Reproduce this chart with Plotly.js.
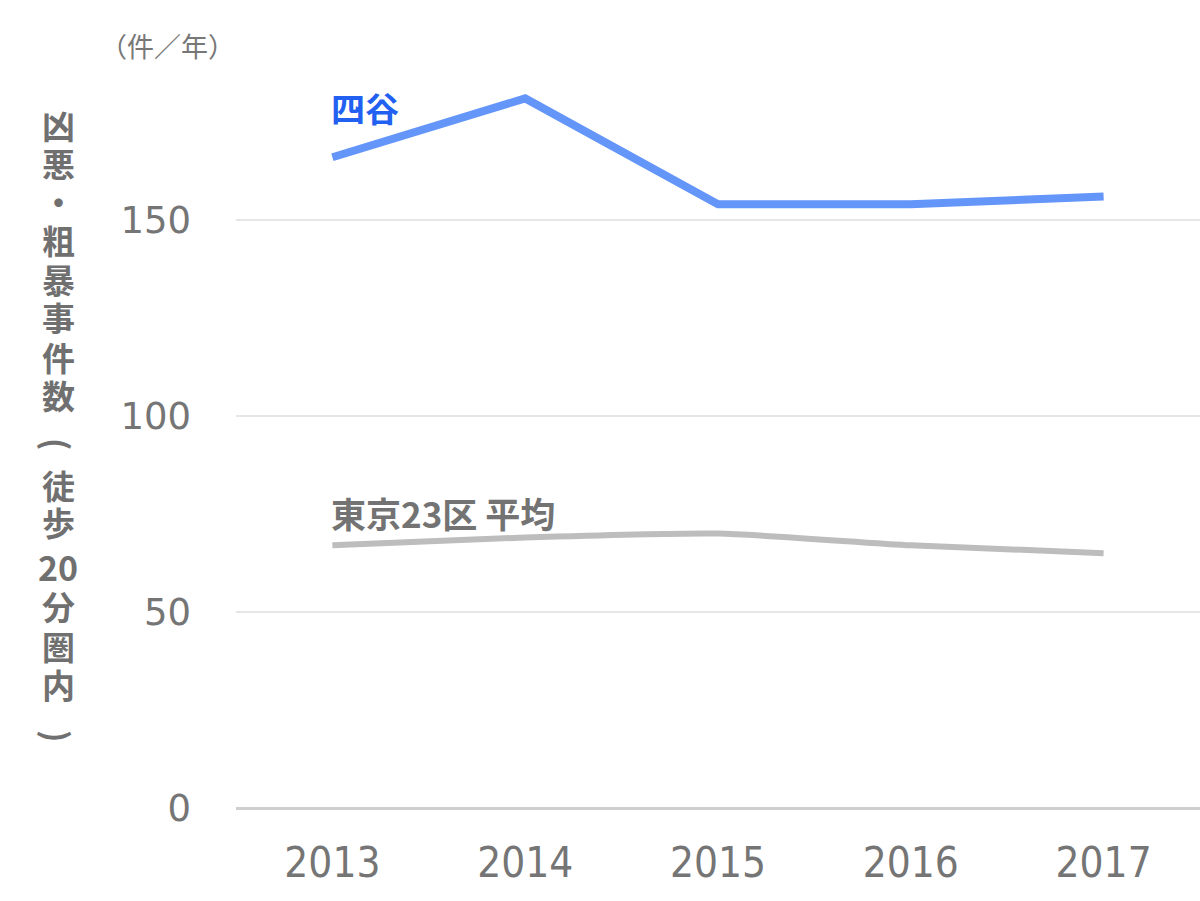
<!DOCTYPE html>
<html>
<head>
<meta charset="utf-8">
<script src="https://cdn.plot.ly/plotly-3.0.1.min.js"></script>
<style>html,body{margin:0;padding:0;background:#fff;}#chart{width:1200px;height:901px;}</style>
</head>
<body>
<div id="chart"></div>
<script>
const years = ['2013', '2014', '2015', '2016', '2017'];
const yotsuya = [166, 181, 154, 154, 156];
const tokyoAvg = [67, 69, 70, 67, 65];
const yTicks = [0, 50, 100, 150];
const seriesNames = ['四谷', '東京23区 平均'];
const yTitleChars = ['凶','悪','・','粗','暴','事','件','数','(','徒','歩','20','分','圏','内',')'];
const unitLabel = '（件／年）';

const traces = [
  {x: years, y: tokyoAvg, type: 'scatter', mode: 'lines', name: seriesNames[1],
   line: {color: '#bdbdbd', width: 6, shape: 'spline', smoothing: 0.6}},
  {x: years, y: yotsuya, type: 'scatter', mode: 'lines', name: seriesNames[0],
   line: {color: '#6496fa', width: 8}}
];

// layout geometry (pixels)
const M = {l: 236, r: 0, t: 60, b: 93};
const plotW = 1200 - M.l - M.r, plotH = 901 - M.t - M.b;
const px2x = p => (p - M.l) / plotW;
const py2y = p => (901 - M.b - p) / plotH;
const titleCharPixelY = [125, 163, 201, 240, 279, 317, 357, 395, 444, 485, 522, 566, 606, 646, 684, 736];

const annotations = [
  {xref: 'paper', yref: 'paper', x: px2x(98), y: py2y(45), xanchor: 'left', yanchor: 'middle',
   text: unitLabel, showarrow: false, font: {size: 27, color: '#777'}},
  {xref: 'x', yref: 'y', x: 0, y: 178.6, xanchor: 'left', yanchor: 'middle', xshift: -3,
   text: '<b>' + seriesNames[0] + '</b>', showarrow: false, font: {size: 34, color: '#2160f0'}},
  {xref: 'x', yref: 'y', x: 0, y: 75.5, xanchor: 'left', yanchor: 'middle', xshift: -3,
   text: '<b>' + seriesNames[1] + '</b>', showarrow: false, font: {size: 35, color: '#737373'}}
];
yTitleChars.forEach((ch, i) => {
  const isParen = (ch === '(' || ch === ')');
  annotations.push({
    xref: 'paper', yref: 'paper', x: px2x(58), y: py2y(titleCharPixelY[i]),
    xanchor: 'center', yanchor: 'middle', showarrow: false,
    text: '<b>' + ch + '</b>', textangle: isParen ? 90 : 0,
    font: {size: ch === '20' ? 34 : 33, color: '#707070'}
  });
});

const layout = {
  width: 1200, height: 901,
  margin: M,
  showlegend: false,
  paper_bgcolor: '#fff', plot_bgcolor: '#fff',
  font: {family: 'Noto Sans CJK JP, sans-serif', color: '#777'},
  xaxis: {type: 'category', range: [-0.5, 4.5], showgrid: false, zeroline: false,
          showline: false, ticks: '', tickfont: {size: 42, color: '#757575', family: 'DejaVu Sans Condensed, DejaVu Sans'},
          ticklabelstandoff: 26},
  yaxis: {range: [0, 190.8], tickvals: yTicks, ticktext: yTicks.map(String),
          showgrid: true, gridcolor: '#e6e6e6', gridwidth: 2,
          zeroline: true, zerolinecolor: '#cfcfcf', zerolinewidth: 3,
          showline: false, ticks: '', tickfont: {size: 37, color: '#757575', family: 'DejaVu Sans'},
          ticklabelstandoff: 44},
  annotations: annotations
};

Plotly.newPlot('chart', traces, layout, {displayModeBar: false, staticPlot: true});
</script>
</body>
</html>
